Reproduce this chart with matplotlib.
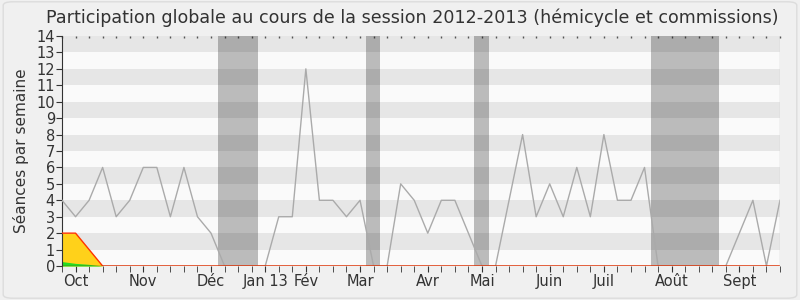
import matplotlib
matplotlib.use("Agg")
import matplotlib.pyplot as plt
from matplotlib.patches import FancyBboxPatch

# === Data (one point per week, session 2012-2013) ===
weeks = list(range(54))
seances = [4, 3, 4, 6, 3, 4, 6, 6, 3, 6, 3, 2, 0, 0, 0, 0, 3, 3, 12, 4,
           4, 3, 4, 0, 0, 5, 4, 2, 4, 4, 2, 0, 0, 4, 8, 3, 5, 3, 6, 3,
           8, 4, 4, 6, 0, 0, 0, 0, 0, 0, 2, 4, 0, 4]
# presences (yellow area) and interventions (green area), first weeks only
presence = [2, 2, 1, 0] + [0] * 50
interventions = [0.27, 0.16, 0.1, 0] + [0] * 50

# holiday periods, in weeks
vacances = [(11.48, 14.46), (22.46, 23.49), (30.43, 31.54), (43.49, 48.51)]

month_pos = [1, 6, 11, 15, 18, 22, 27, 31, 36, 40, 45, 50]
month_labels = ["Oct", "Nov", "Déc", "Jan 13", "Fév", "Mar", "Avr", "Mai",
                "Juin", "Juil", "Août", "Sept"]

# === Figure ===
fig = plt.figure(figsize=(8, 3), dpi=100, facecolor="#f0f0f0")
border = FancyBboxPatch((0.004, 0.006), 0.992, 0.988,
                        boxstyle="round,pad=0,rounding_size=0.012",
                        transform=fig.transFigure, facecolor="none",
                        edgecolor="#dcdcdc", linewidth=1, zorder=-1)
fig.patches.append(border)

ax = fig.add_axes([0.0775, 0.1133, 0.8975, 0.7667])
ax.set_facecolor("#fafafa")

# alternating horizontal stripes
for y in range(1, 14, 2):
    ax.axhspan(y, y + 1, color="#e6e6e6", linewidth=0, zorder=0)

for start, end in vacances:
    ax.axvspan(start, end, color="black", alpha=0.25, linewidth=0, zorder=1)

ax.plot(weeks, seances, color="#aaaaaa", linewidth=1, zorder=3)
ax.fill_between(weeks, presence, color="#ffd11a", linewidth=0, zorder=2)
ax.fill_between(weeks, interventions, color="#22dd22", linewidth=0, zorder=2)
ax.plot(weeks, presence, color="#ff3300", linewidth=1, zorder=4)
ax.axhline(0, color="#7a2a10", linewidth=1, zorder=4)

ax.set_xlim(0, 53)
ax.set_ylim(0, 14)
ax.set_yticks(range(15))
# month labels on major ticks, one small tick per week
ax.set_xticks(month_pos)
ax.set_xticklabels(month_labels)
ax.set_xticks(weeks, minor=True)
ax.tick_params(axis="x", which="both", direction="out", length=4,
               color="#333333", labelsize=10.5, labelcolor="#333333", pad=2)
ax.tick_params(axis="y", direction="out", length=4, color="#333333",
               labelsize=10.5, labelcolor="#333333", pad=1)

# small dotted ticks along the top edge
top = ax.secondary_xaxis("top")
top.set_xticks(weeks)
top.set_xticklabels([])
top.tick_params(direction="in", length=1.5, width=1, color="#555555")
top.spines["top"].set_visible(False)

for side in ["top", "right"]:
    ax.spines[side].set_visible(False)
ax.spines["left"].set_color("#333333")
ax.spines["bottom"].set_visible(False)
ax.axvline(53, color="#d0d0d0", linewidth=1, zorder=5)

ax.set_ylabel("Séances par semaine", fontsize=11, color="#333333", labelpad=5)
fig.text(0.515, 0.94, "Participation globale au cours de la session 2012-2013 "
         "(hémicycle et commissions)", ha="center", va="center",
         fontsize=12.6, color="#333333")

fig.savefig("out.png", facecolor=fig.get_facecolor())
